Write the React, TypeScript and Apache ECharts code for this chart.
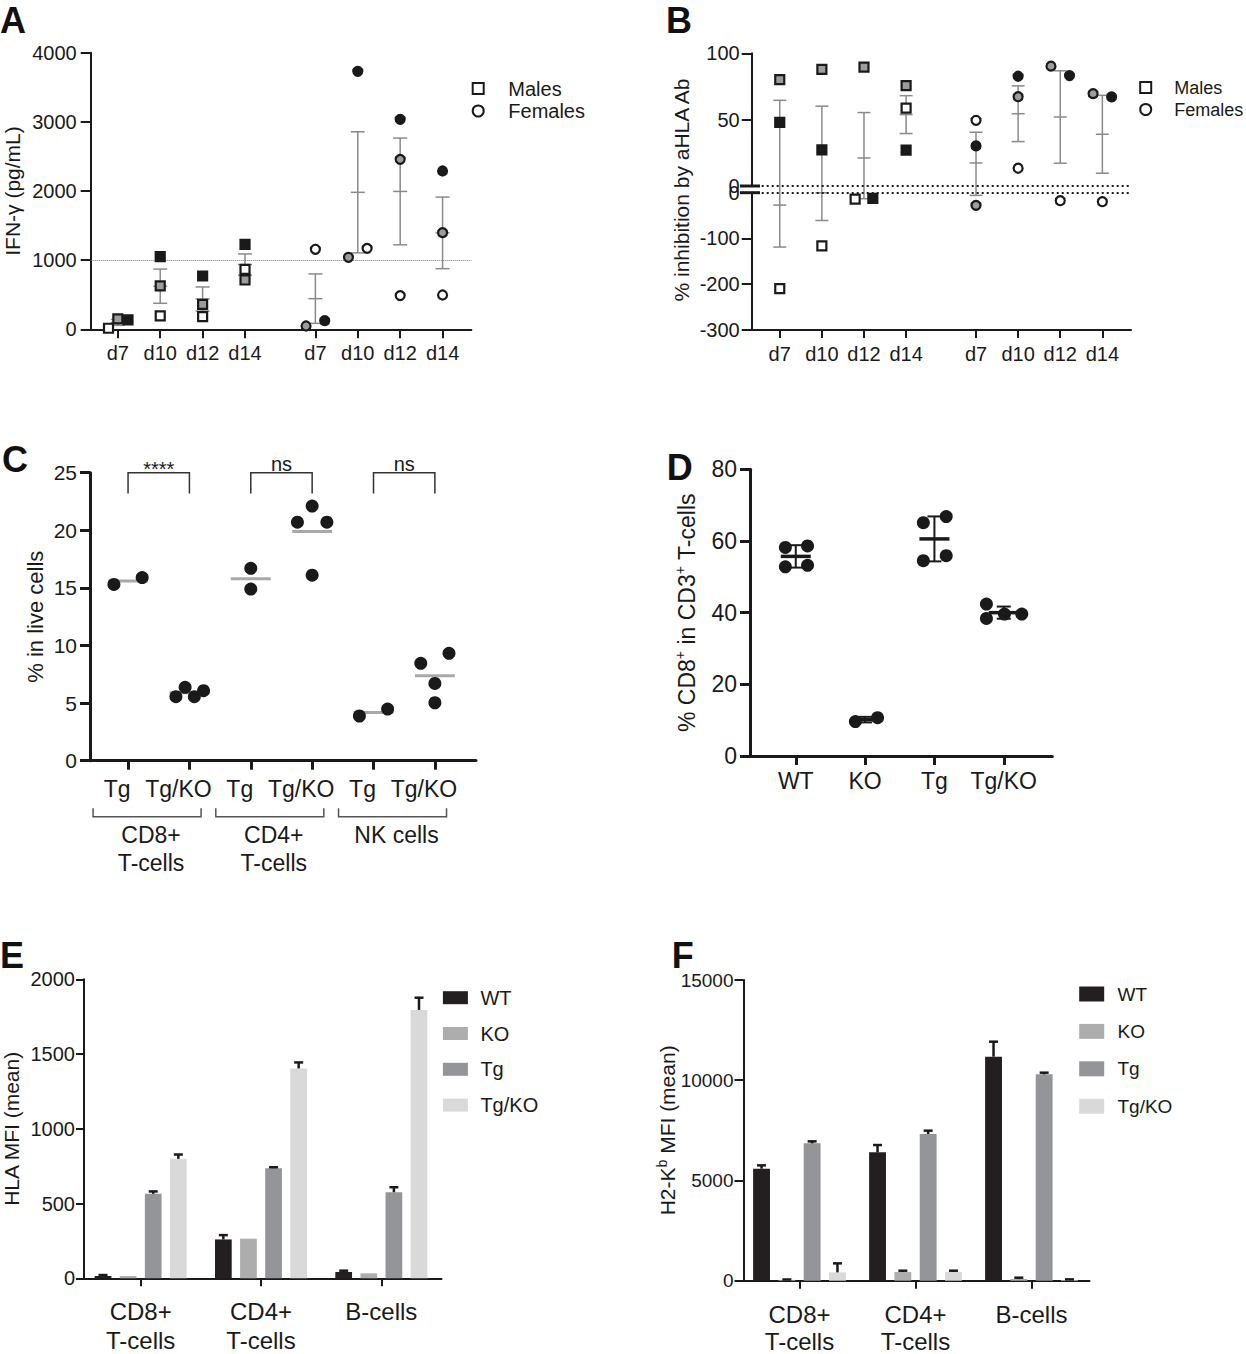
import React, { useEffect, useRef } from 'react';
import * as echarts from 'echarts';

const REG = "'Liberation Sans', Arial, Helvetica, sans-serif";
const INK = '#1a1a1a';
const GRAY_FILL = '#9d9d9d';
const ERR_GRAY = '#8a8a8a';

// ---------- Panel A : IFN-γ ----------
const dayLabels = ['d7', 'd10', 'd12', 'd14'];
const ifnMaleOpen = [15, 193, 183, 867];
const ifnMaleGray = [150, 627, 361, 713];
const ifnMaleBlack = [135, 1050, 771, 1229];
const ifnFemaleOpen = [1157, 1171, 487, 496];
const ifnFemaleGray = [48, 1041, 2458, 1398];
const ifnFemaleBlack = [125, 3730, 3036, 2289];
const ifnThreshold = 1000;

// ---------- Panel B : % inhibition ----------
const inhMaleOpen = [-209.5, -116, -13.9, 58.7];
const inhMaleGray = [80.2, 87.9, 89.6, 75.7];
const inhMaleBlack = [48, 27.2, -12.4, 27];
const inhFemaleOpen = [49.5, 13.4, -17.5, -19.7];
const inhFemaleGray = [-27.7, 67.3, 90.3, 69.6];
const inhFemaleBlack = [30.2, 82.7, 83.2, 67.1];

// ---------- Panel C : % in live cells ----------
const cSubsets = ['CD8+\nT-cells', 'CD4+\nT-cells', 'NK cells'];
const cGenotypes = ['Tg', 'Tg/KO', 'Tg', 'Tg/KO', 'Tg', 'Tg/KO'];
const cSignif = ['****', 'ns', 'ns'];
const liveCd8Tg = [15.3, 15.9];
const liveCd8TgKO = [5.56, 6.37, 5.56, 6.08];
const liveCd4Tg = [16.7, 14.9];
const liveCd4TgKO = [20.7, 22.1, 20.7, 16.1];
const liveNkTg = [3.88, 4.48];
const liveNkTgKO = [8.45, 9.32, 6.71, 5.03];

// ---------- Panel D : % CD8+ in CD3+ ----------
const dGenotypes = ['WT', 'KO', 'Tg', 'Tg/KO'];
const cd8InCd3WT = [58.2, 58.6, 52.8, 53.2];
const cd8InCd3KO = [9.6, 10.7];
const cd8InCd3Tg = [65.1, 66.8, 54.5, 55.9];
const cd8InCd3TgKO = [42.4, 38.4, 39.6, 39.6];

// ---------- Panels E / F : MFI bars ----------
const barGenotypes = ['WT', 'KO', 'Tg', 'Tg/KO'];
const cellTypes = ['CD8+\nT-cells', 'CD4+\nT-cells', 'B-cells'];
const hlaWT = [16, 260, 42];
const hlaKO = [15, 265, 33];
const hlaTg = [565, 736, 576];
const hlaTgKO = [799, 1404, 1795];
const hlaErrWT = [6, 29, 9];
const hlaErrKO = [0, 0, 0];
const hlaErrTg = [16, 7, 33];
const hlaErrTgKO = [29, 40, 82];
const h2kbWT = [5588, 6403, 11175];
const h2kbKO = [40, 432, 83];
const h2kbTg = [6852, 7317, 10294];
const h2kbTgKO = [416, 432, 33];
const h2kbErrWT = [166, 365, 748];
const h2kbErrKO = [20, 67, 67];
const h2kbErrTg = [99, 167, 83];
const h2kbErrTgKO = [449, 67, 33];

// ---------- layout (positions on value axes, jitter) ----------
const posAB = [0, 1, 2, 3, 4.66, 5.66, 6.66, 7.66];
const jitA = {
  mOpen: [-0.22, 0, 0, 0], mGray: [0, 0, 0, 0], mBlack: [0.24, 0, 0, 0],
  fOpen: [0, 0.22, 0, 0], fGray: [-0.22, -0.22, 0, 0], fBlack: [0.22, 0, 0, 0],
};
const jitB = {
  mOpen: [0, 0, -0.21, 0], mGray: [0, 0, 0, 0], mBlack: [0, 0, 0.21, 0],
  fOpen: [0, 0, 0, 0], fGray: [0, 0, -0.22, -0.22], fBlack: [0, 0, 0.22, 0.22],
};
const posC = [0, 1, 2, 3, 4, 5];
const cJit = [[-0.23, 0.23], [-0.22, -0.07, 0.08, 0.23], [0, 0], [-0.24, 0, 0.24, 0], [-0.23, 0.23], [-0.23, 0.23, 0, 0]];
const posD = [0, 1, 2, 3];
const dJit = [[-0.15, 0.17, -0.15, 0.17], [-0.14, 0.18], [-0.16, 0.17, -0.16, 0.17], [-0.25, -0.25, 0.01, 0.26]];
const barColors = ['#231f20', '#adadad', '#939598', '#d9d9d9'];

// ---------- helpers ----------
const mean = (a: number[]) => a.reduce((s, v) => s + v, 0) / a.length;
const sd = (a: number[]) => {
  const m = mean(a);
  return Math.sqrt(a.reduce((s, v) => s + (v - m) * (v - m), 0) / (a.length - 1));
};
const sem = (a: number[]) => sd(a) / Math.sqrt(a.length);
const place = (vals: number[], base: number[], jit: number[]) => vals.map((v, i) => [base[i] + jit[i], v]);
const triad = (o: number[], g: number[], b: number[], base: number[]) =>
  o.map((_, i) => {
    const v = [o[i], g[i], b[i]];
    const m = mean(v), s = sem(v);
    return [base[i], m, m - s, m + s];
  });

const empty = () => ({ type: 'group', children: [] });

const errRender = (cap: number, meanW: number, color: string, lw: number, meanLw: number) =>
  (params: any, api: any) => {
    const x = api.value(0), m = api.value(1), lo = api.value(2), hi = api.value(3);
    const a = api.coord([x, hi]), b = api.coord([x, lo]), c = api.coord([x, m]);
    const st = { stroke: color, lineWidth: lw };
    return {
      type: 'group',
      children: [
        { type: 'line', shape: { x1: a[0], y1: a[1], x2: b[0], y2: b[1] }, style: st },
        { type: 'line', shape: { x1: a[0] - cap / 2, y1: a[1], x2: a[0] + cap / 2, y2: a[1] }, style: st },
        { type: 'line', shape: { x1: b[0] - cap / 2, y1: b[1], x2: b[0] + cap / 2, y2: b[1] }, style: st },
        { type: 'line', shape: { x1: c[0] - meanW / 2, y1: c[1], x2: c[0] + meanW / 2, y2: c[1] }, style: { stroke: color, lineWidth: meanLw } },
      ],
    };
  };

// error bar split over the broken axis; dMin..dMax = domain of this grid
const errRenderSplit = (dMin: number, dMax: number, extendUp: number, cap: number) => (params: any, api: any) => {
  const x = api.value(0), m = api.value(1), lo = api.value(2), hi = api.value(3);
  if (hi < dMin || lo > dMax) return empty();
  const top = Math.min(hi, dMax), bot = Math.max(lo, dMin);
  const a = api.coord([x, top]), b = api.coord([x, bot]);
  let yTop = a[1];
  if (hi > dMax && extendUp) yTop -= extendUp;
  const st = { stroke: ERR_GRAY, lineWidth: 1.5 };
  const ch: any[] = [{ type: 'line', shape: { x1: a[0], y1: yTop, x2: b[0], y2: b[1] }, style: st }];
  if (hi <= dMax && hi >= dMin) ch.push({ type: 'line', shape: { x1: a[0] - cap / 2, y1: a[1], x2: a[0] + cap / 2, y2: a[1] }, style: st });
  if (lo >= dMin && lo <= dMax) ch.push({ type: 'line', shape: { x1: b[0] - cap / 2, y1: b[1], x2: b[0] + cap / 2, y2: b[1] }, style: st });
  const inDom = dMax > 0 ? m >= dMin && m <= dMax : m < dMax && m >= dMin;
  if (inDom) {
    const c = api.coord([x, m]);
    ch.push({ type: 'line', shape: { x1: c[0] - cap / 2, y1: c[1], x2: c[0] + cap / 2, y2: c[1] }, style: st });
  }
  return { type: 'group', children: ch };
};

const barErrRender = (n: number, catGap: number, cap: number, lw: number) => (params: any, api: any) => {
  const ci = api.value(0), v = api.value(1), e = api.value(2), si = api.value(3);
  if (!(e > 0)) return empty();
  const band = api.size([1, 0])[0];
  const bw = (band * (1 - catGap)) / (n + (n - 1) * 0.5);
  const gw = n * bw + (n - 1) * bw * 0.5;
  const p = api.coord([ci, v]);
  const x = p[0] - gw / 2 + si * bw * 1.5 + bw / 2;
  const yTop = api.coord([ci, v + e])[1];
  const st = { stroke: INK, lineWidth: lw };
  return {
    type: 'group',
    children: [
      { type: 'line', shape: { x1: x, y1: p[1], x2: x, y2: yTop }, style: st },
      { type: 'line', shape: { x1: x - cap / 2, y1: yTop, x2: x + cap / 2, y2: yTop }, style: st },
    ],
  };
};

const lineSt = (w: number) => ({ color: INK, width: w });
const plain = (v: number) => String(v);

function catValueX(gridIndex: number, positions: number[], labels: string[], min: number, max: number, o: any) {
  return {
    type: 'value', gridIndex, min, max, show: o.show !== false,
    axisLine: { show: true, onZero: false, lineStyle: lineSt(o.lw) },
    axisTick: { show: o.tick > 0, customValues: positions, length: o.tick, lineStyle: lineSt(o.lw) },
    axisLabel: {
      customValues: positions,
      formatter: (v: number) => {
        const i = positions.findIndex((p) => Math.abs(p - v) < 1e-6);
        return i < 0 ? '' : labels[i];
      },
      fontSize: o.fs, fontFamily: REG, color: INK, margin: o.margin, padding: o.padding || 0,
    },
    splitLine: { show: false },
  };
}

function valueY(gridIndex: number, min: number, max: number, interval: number, o: any) {
  return {
    type: 'value', gridIndex, min, max, interval, offset: o.offset || 0,
    axisLine: { show: true, onZero: false, lineStyle: lineSt(o.lw) },
    axisTick: { show: true, length: o.tick, lineStyle: lineSt(o.lw) },
    axisLabel: { fontSize: o.fs, fontFamily: REG, color: INK, margin: o.margin, formatter: plain },
    splitLine: { show: false },
    name: o.name || '',
    nameLocation: 'middle',
    nameRotate: 90,
    nameGap: o.nameGap || 0,
    nameMoveOverlap: false,
    nameTextStyle: o.nameStyle || { fontSize: 21, fontFamily: REG, color: INK },
  };
}

const mk = (name: string, data: any[], symbol: string, fill: string, idx: number, size: number, extra: any = {}) => ({
  type: 'scatter', name, data, symbol, symbolSize: size, xAxisIndex: idx, yAxisIndex: idx,
  itemStyle: { color: fill, borderColor: INK, borderWidth: 2.2, opacity: 1 },
  z: 5, silent: true, ...extra,
});

const E_GAP = 0.235;
const F_GAP = 0.2;

function buildOption() {
  const mBase = posAB.slice(0, 4);
  const fBase = posAB.slice(4);
  const SQ = 9, CI = 9;

  // ---- A ----
  const zeroDotted = (color: string, width: number, type: any) => ({
    silent: true, symbol: ['none', 'none'], label: { show: false },
    lineStyle: { color, width, type }, data: [{ yAxis: 0 }],
  });
  const seriesA: any[] = [
    {
      type: 'custom', xAxisIndex: 0, yAxisIndex: 0, silent: true, z: 3,
      encode: { x: 0, y: [1, 2, 3] },
      data: [...triad(ifnMaleOpen, ifnMaleGray, ifnMaleBlack, mBase), ...triad(ifnFemaleOpen, ifnFemaleGray, ifnFemaleBlack, fBase)],
      renderItem: errRender(14, 14, ERR_GRAY, 1.5, 1.5),
    },
    mk('Males', place(ifnMaleOpen, mBase, jitA.mOpen), 'rect', '#ffffff', 0, SQ, {
      markLine: {
        silent: true, symbol: ['none', 'none'], label: { show: false },
        lineStyle: { color: '#777', width: 1, type: 'dotted' }, data: [{ yAxis: ifnThreshold }],
      },
    }),
    mk('A-mg', place(ifnMaleGray, mBase, jitA.mGray), 'rect', GRAY_FILL, 0, SQ),
    mk('A-mb', place(ifnMaleBlack, mBase, jitA.mBlack), 'rect', INK, 0, SQ),
    mk('Females', place(ifnFemaleOpen, fBase, jitA.fOpen), 'circle', '#ffffff', 0, CI),
    mk('A-fg', place(ifnFemaleGray, fBase, jitA.fGray), 'circle', GRAY_FILL, 0, CI),
    mk('A-fb', place(ifnFemaleBlack, fBase, jitA.fBlack), 'circle', INK, 0, CI),
  ];

  // ---- B (broken axis: grid 1 upper, grid 2 lower) ----
  const bErr = [...triad(inhMaleOpen, inhMaleGray, inhMaleBlack, mBase), ...triad(inhFemaleOpen, inhFemaleGray, inhFemaleBlack, fBase)];
  const bSets = [
    { key: 'mo', vals: inhMaleOpen, base: mBase, jit: jitB.mOpen, sym: 'rect', fill: '#ffffff', size: SQ },
    { key: 'mg', vals: inhMaleGray, base: mBase, jit: jitB.mGray, sym: 'rect', fill: GRAY_FILL, size: SQ },
    { key: 'mb', vals: inhMaleBlack, base: mBase, jit: jitB.mBlack, sym: 'rect', fill: INK, size: SQ },
    { key: 'fo', vals: inhFemaleOpen, base: fBase, jit: jitB.fOpen, sym: 'circle', fill: '#ffffff', size: CI },
    { key: 'fg', vals: inhFemaleGray, base: fBase, jit: jitB.fGray, sym: 'circle', fill: GRAY_FILL, size: CI },
    { key: 'fb', vals: inhFemaleBlack, base: fBase, jit: jitB.fBlack, sym: 'circle', fill: INK, size: CI },
  ];
  const seriesB: any[] = [
    {
      type: 'custom', xAxisIndex: 1, yAxisIndex: 1, silent: true, z: 3,
      encode: { x: 0, y: [1, 2, 3] }, data: bErr, renderItem: errRenderSplit(0, 100, 0, 13),
    },
    {
      type: 'custom', xAxisIndex: 2, yAxisIndex: 2, silent: true, z: 3,
      encode: { x: 0, y: [1, 2, 3] }, data: bErr, renderItem: errRenderSplit(-300, 0, 6.7, 13),
    },
  ];
  bSets.forEach((s, k) => {
    const pts = place(s.vals, s.base, s.jit);
    seriesB.push(mk('B-' + s.key + '-up', pts.filter((p) => p[1] >= 0), s.sym, s.fill, 1, s.size,
      k === 0 ? { markLine: zeroDotted(INK, 2.2, [2, 3]) } : {}));
    seriesB.push(mk('B-' + s.key + '-low', pts.filter((p) => p[1] < 0), s.sym, s.fill, 2, s.size,
      k === 0 ? { markLine: zeroDotted(INK, 2.2, [2, 3]) } : {}));
  });

  // ---- C ----
  const cGroupsData = [liveCd8Tg, liveCd8TgKO, liveCd4Tg, liveCd4TgKO, liveNkTg, liveNkTgKO];
  const cPts: any[] = [];
  cGroupsData.forEach((vals, g) => vals.forEach((v, i) => cPts.push([posC[g] + cJit[g][i], v])));
  const seriesC: any[] = [
    {
      type: 'custom', xAxisIndex: 3, yAxisIndex: 3, silent: true, z: 3,
      encode: { x: 0, y: 1 },
      data: cGroupsData.map((vals, g) => [posC[g], mean(vals)]),
      renderItem: (params: any, api: any) => {
        const p = api.coord([api.value(0), api.value(1)]);
        const half = api.size([0.65, 0])[0] / 2;
        return { type: 'line', shape: { x1: p[0] - half, y1: p[1], x2: p[0] + half, y2: p[1] }, style: { stroke: '#a8a8a8', lineWidth: 3 } };
      },
    },
    {
      type: 'scatter', name: 'C-pts', data: cPts, xAxisIndex: 3, yAxisIndex: 3, symbol: 'circle', symbolSize: 13,
      itemStyle: { color: INK, opacity: 1 }, z: 5, silent: true,
    },
    {
      type: 'custom', xAxisIndex: 3, yAxisIndex: 3, silent: true, z: 4,
      encode: { x: [0, 1], y: [2, 3] },
      data: cSignif.map((_, g) => [posC[2 * g], posC[2 * g + 1], 25, 23.2]),
      renderItem: (params: any, api: any) => {
        const a = api.coord([api.value(0), api.value(2)]);
        const b = api.coord([api.value(1), api.value(2)]);
        const legY = api.coord([api.value(0), api.value(3)])[1];
        const label = cSignif[params.dataIndex];
        const stars = label.indexOf('*') >= 0;
        return {
          type: 'group',
          children: [
            { type: 'polyline', shape: { points: [[a[0], legY], [a[0], a[1]], [b[0], b[1]], [b[0], legY]] }, style: { stroke: '#333', lineWidth: 1.5, fill: null } },
            { type: 'text', x: (a[0] + b[0]) / 2, y: a[1] + (stars ? 6 : 1), style: { text: label, align: 'center', verticalAlign: 'bottom', fontSize: 20, fontFamily: REG, fill: INK } },
          ],
        };
      },
    },
    {
      type: 'custom', xAxisIndex: 3, yAxisIndex: 3, silent: true, z: 4,
      encode: { x: [0, 1], y: 2 },
      data: cSubsets.map((_, g) => [posC[2 * g] - 0.57, posC[2 * g + 1] + 0.19, 0]),
      renderItem: (params: any, api: any) => {
        const a = api.coord([api.value(0), api.value(2)]);
        const b = api.coord([api.value(1), api.value(2)]);
        const y0 = a[1];
        return {
          type: 'group',
          children: [
            { type: 'polyline', shape: { points: [[a[0], y0 + 47.5], [a[0], y0 + 56], [b[0], y0 + 56], [b[0], y0 + 47.5]] }, style: { stroke: '#555', lineWidth: 1.5, fill: null } },
            { type: 'text', x: (a[0] + b[0]) / 2 + 4, y: y0 + 60, style: { text: cSubsets[params.dataIndex], align: 'center', verticalAlign: 'top', fontSize: 23, lineHeight: 28, fontFamily: REG, fill: INK } },
          ],
        };
      },
    },
  ];

  // ---- D ----
  const dGroupsData = [cd8InCd3WT, cd8InCd3KO, cd8InCd3Tg, cd8InCd3TgKO];
  const dPts: any[] = [];
  dGroupsData.forEach((vals, g) => vals.forEach((v, i) => dPts.push([posD[g] + dJit[g][i], v])));
  const seriesD: any[] = [
    {
      type: 'scatter', name: 'D-pts', data: dPts, xAxisIndex: 4, yAxisIndex: 4, symbol: 'circle', symbolSize: 13,
      itemStyle: { color: INK, opacity: 1 }, z: 4, silent: true,
    },
    {
      type: 'custom', xAxisIndex: 4, yAxisIndex: 4, silent: true, z: 5,
      encode: { x: 0, y: [1, 2, 3] },
      data: dGroupsData.map((vals, g) => {
        const m = mean(vals), s = sd(vals);
        return [posD[g], m, m - s, m + s];
      }),
      renderItem: errRender(14, 30, INK, 2, 3.5),
    },
  ];

  // ---- E / F ----
  const hlaVals = [hlaWT, hlaKO, hlaTg, hlaTgKO];
  const hlaErrs = [hlaErrWT, hlaErrKO, hlaErrTg, hlaErrTgKO];
  const h2Vals = [h2kbWT, h2kbKO, h2kbTg, h2kbTgKO];
  const h2Errs = [h2kbErrWT, h2kbErrKO, h2kbErrTg, h2kbErrTgKO];
  const barPanel = (idx: number, vals: number[][], errs: number[][], catGap: number) => {
    const out: any[] = barGenotypes.map((g, k) => ({
      type: 'bar', name: g, data: vals[k], xAxisIndex: idx, yAxisIndex: idx,
      barGap: '50%', barCategoryGap: `${catGap * 100}%`, itemStyle: { color: barColors[k] }, z: 2, silent: true,
    }));
    const ed: any[] = [];
    vals.forEach((row, k) => row.forEach((v, c) => ed.push([c, v, errs[k][c], k])));
    out.push({
      type: 'custom', xAxisIndex: idx, yAxisIndex: idx, silent: true, z: 3,
      encode: { x: 0, y: 1 }, data: ed, renderItem: barErrRender(barGenotypes.length, catGap, 9, 2.5),
    });
    return out;
  };

  const catX = (gridIndex: number, margin: number, fs: number, lh: number) => ({
    type: 'category', gridIndex, data: cellTypes,
    axisLine: { show: true, onZero: false, lineStyle: lineSt(2) },
    axisTick: { show: true, alignWithLabel: true, length: 8, lineStyle: lineSt(2) },
    axisLabel: { interval: 0, fontSize: fs, lineHeight: lh, margin, color: INK, fontFamily: REG },
    splitLine: { show: false },
  });

  const legendRich = (fs: number, pad: number) => ({
    fontFamily: REG, fontSize: fs, color: INK,
    rich: { p: { fontFamily: REG, fontSize: fs, color: INK, lineHeight: 22, padding: [0, 0, 0, pad] } },
  });

  const letters = [['A', 0, 20], ['B', 666, 20], ['C', 2, 459.5], ['D', 666.7, 467.3], ['E', 0, 955.5], ['F', 671.7, 955.5]];

  return {
    animation: false,
    backgroundColor: '#ffffff',
    textStyle: { fontFamily: REG },
    grid: [
      { left: 90.7, top: 52.7, width: 380.7, height: 276.6 },
      { left: 751.7, top: 53.3, width: 379.3, height: 132.7 },
      { left: 751.7, top: 192.7, width: 379.3, height: 137.3 },
      { left: 90, top: 472.7, width: 386, height: 288 },
      { left: 750, top: 469.3, width: 302.3, height: 286.7 },
      { left: 80.5, top: 979.3, width: 361, height: 299 },
      { left: 741.5, top: 980, width: 348, height: 300.7 },
    ].map((g) => ({ ...g, containLabel: false, outerBoundsMode: 'none' })),
    xAxis: [
      catValueX(0, posAB, [...dayLabels, ...dayLabels], -0.64, 8.34, { lw: 2, tick: 9, fs: 20, margin: 14 }),
      catValueX(1, posAB, [...dayLabels, ...dayLabels], -0.666, 8.34, { lw: 2, tick: 0, fs: 20, margin: 14, show: false }),
      catValueX(2, posAB, [...dayLabels, ...dayLabels], -0.666, 8.34, { lw: 2, tick: 8, fs: 20, margin: 14 }),
      catValueX(3, posC, cGenotypes, -0.62, 5.67, { lw: 3, tick: 9, fs: 23, margin: 17, padding: [0, 22, 0, 0] }),
      catValueX(4, posD, dGenotypes, -0.66, 3.7, { lw: 3, tick: 9, fs: 23, margin: 13 }),
      catX(5, 18.5, 24, 29),
      catX(6, 20, 24, 27),
    ],
    yAxis: [
      valueY(0, 0, 4000, 1000, { lw: 2, tick: 10, fs: 20, margin: 14, name: 'IFN-γ (pg/mL)', nameGap: 68 }),
      valueY(1, 0, 100, 50, { lw: 2, tick: 10, fs: 20, margin: 12 }),
      valueY(2, -300, 0, 100, { lw: 2, tick: 10, fs: 20, margin: 12 }),
      valueY(3, 0, 25, 5, { lw: 3, tick: 10, fs: 21, margin: 13, name: '% in live cells', nameGap: 44, nameStyle: { fontSize: 22, fontFamily: REG, color: INK } }),
      valueY(4, 0, 80, 20, {
        lw: 3, tick: 10, fs: 23, margin: 13,
        name: '{t|% CD8}{s|+}{t| in CD3}{s|+}{t| T-cells}', nameGap: 49,
        nameStyle: {
          fontFamily: REG, color: INK, fontSize: 23,
          rich: {
            t: { fontSize: 23, fontFamily: REG, color: INK, lineHeight: 28 },
            s: { fontSize: 14, fontFamily: REG, color: INK, lineHeight: 14, verticalAlign: 'top' },
          },
        },
      }),
      valueY(5, 0, 2000, 500, { lw: 2, tick: 8, fs: 20, margin: 9, offset: -3.5, name: 'HLA MFI (mean)', nameGap: 62 }),
      valueY(6, 0, 15000, 5000, {
        lw: 2, tick: 9, fs: 19, margin: 10, offset: -2,
        name: '{t|H2-K}{s|b}{t| MFI (mean)}', nameGap: 63,
        nameStyle: {
          fontFamily: REG, color: INK, fontSize: 21,
          rich: {
            t: { fontSize: 21, fontFamily: REG, color: INK, lineHeight: 26 },
            s: { fontSize: 14, fontFamily: REG, color: INK, lineHeight: 14, verticalAlign: 'top' },
          },
        },
      }),
    ],
    legend: [
      {
        data: ['Males', 'Females'], orient: 'vertical', left: 471.7, top: 78.5, padding: 0,
        itemWidth: 11, itemHeight: 11, itemGap: 2.5, selectedMode: false,
        formatter: (n: string) => `{p|${n}}`, textStyle: legendRich(20, 19.6),
      },
      {
        data: ['Males', 'Females'], orient: 'vertical', left: 1139.2, top: 78.5, padding: 0,
        itemWidth: 11, itemHeight: 11, itemGap: 4, selectedMode: false,
        formatter: (n: string) => `{p|${n}}`, textStyle: legendRich(18, 18.1),
      },
      {
        data: barGenotypes, orient: 'vertical', left: 442.9, top: 987.7, padding: 0, icon: 'rect',
        itemWidth: 25, itemHeight: 13, itemGap: 15.8, selectedMode: false,
        formatter: (n: string) => `{p|${n}}`, textStyle: legendRich(20, 7.5),
      },
      {
        data: barGenotypes, orient: 'vertical', left: 1079.2, top: 984.5, padding: 0, icon: 'rect',
        itemWidth: 25, itemHeight: 15, itemGap: 18.4, selectedMode: false,
        formatter: (n: string) => `{p|${n}}`, textStyle: legendRich(19, 8.3),
      },
    ],
    graphic: [
      ...letters.map((l: any) => ({
        type: 'text', x: l[1], y: l[2], silent: true,
        style: { text: l[0], fontSize: 36, fontWeight: 'bold', fontFamily: REG, fill: '#111', align: 'left', verticalAlign: 'middle' },
      })),
      {
        type: 'text', x: 681, y: 190, rotation: Math.PI / 2, silent: true,
        style: { text: '% inhibition by aHLA Ab', fontSize: 21, fontFamily: REG, fill: INK, align: 'center', verticalAlign: 'middle' },
      },
      { type: 'line', silent: true, shape: { x1: 740, y1: 186, x2: 760, y2: 186 }, style: { stroke: INK, lineWidth: 3 } },
      { type: 'line', silent: true, shape: { x1: 740, y1: 192.7, x2: 760, y2: 192.7 }, style: { stroke: INK, lineWidth: 3 } },
    ],
    series: [
      ...seriesA,
      ...seriesB,
      ...seriesC,
      ...seriesD,
      ...barPanel(5, hlaVals, hlaErrs, E_GAP),
      ...barPanel(6, h2Vals, h2Errs, F_GAP),
    ],
  };
}

export default function App() {
  const ref = useRef<HTMLDivElement>(null);
  useEffect(() => {
    if (!ref.current) return;
    const chart = echarts.init(ref.current, undefined, { renderer: 'svg' });
    chart.setOption(buildOption() as any);
    return () => chart.dispose();
  }, []);
  return (
    <div
      ref={ref}
      style={{ position: 'absolute', left: 0, top: 0, width: 1246, height: 1354, background: '#ffffff' }}
    />
  );
}
